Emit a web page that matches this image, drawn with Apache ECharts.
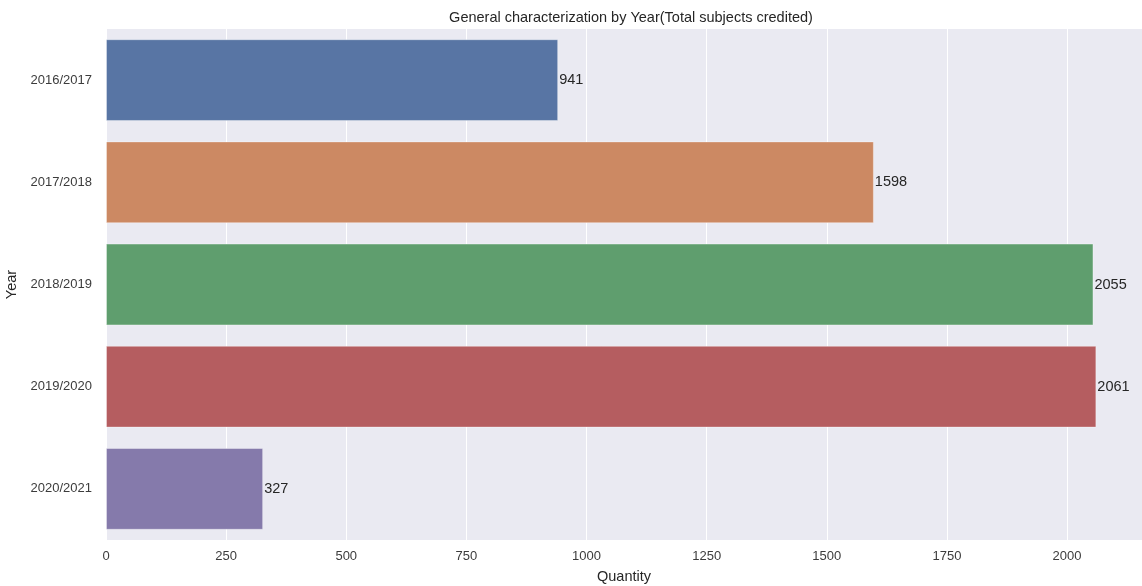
<!DOCTYPE html>
<html>
<head>
<meta charset="utf-8">
<script src="https://cdn.jsdelivr.net/npm/echarts@6/dist/echarts.min.js"></script>
<style>html,body{margin:0;padding:0;background:#fff;}#c{width:1142px;height:586px;}</style>
</head>
<body>
<div id="c"></div>
<script>
const categories = ['2016/2017', '2017/2018', '2018/2019', '2019/2020', '2020/2021'];
const values = [941, 1598, 2055, 2061, 327];
const xTicks = [0, 250, 500, 750, 1000, 1250, 1500, 1750, 2000];
const palette = ['#5875a4', '#cc8963', '#5f9e6e', '#b55d60', '#857aab'];
const FONT = '"Liberation Sans", Arial, sans-serif';

const chart = echarts.init(document.getElementById('c'), null, {renderer: 'canvas'});
chart.setOption({
  animation: false,
  backgroundColor: '#ffffff',
  title: {
    text: 'General characterization by Year(Total subjects credited)',
    left: 626, top: 5, textAlign: 'center',
    textStyle: {fontFamily: FONT, fontSize: 14.5, fontWeight: 'normal', color: '#262626'}
  },
  grid: {left: 106, right: 0, top: 29, bottom: 46, show: true, backgroundColor: '#eaeaf2', borderWidth: 0,
    containLabel: false, outerBoundsMode: 'none'},
  xAxis: {
    type: 'value', min: 0, max: 2156, interval: 250,
    name: 'Quantity', nameLocation: 'middle', nameGap: 29,
    nameTextStyle: {fontFamily: FONT, fontSize: 14.5, color: '#262626'},
    axisLine: {show: false}, axisTick: {show: false},
    axisLabel: {fontFamily: FONT, fontSize: 13, color: '#3c3c3c', margin: 10, showMaxLabel: false,
      formatter: v => xTicks.includes(v) ? String(v) : ''},
    splitLine: {show: true, lineStyle: {color: '#ffffff', width: 1}}
  },
  yAxis: {
    type: 'category', data: categories, inverse: true,
    name: 'Year', nameLocation: 'middle', nameGap: 80,
    nameTextStyle: {fontFamily: FONT, fontSize: 14.5, color: '#262626'},
    axisLine: {show: false}, axisTick: {show: false},
    axisLabel: {fontFamily: FONT, fontSize: 13, color: '#3c3c3c', margin: 14},
    splitLine: {show: false}
  },
  series: [{
    type: 'bar',
    barCategoryGap: '20%',
    data: values.map((v, i) => ({value: v, itemStyle: {color: palette[i], borderColor: 'rgba(255,255,255,0.35)', borderWidth: 1}})),
    label: {show: true, position: 'right', distance: 1, fontFamily: FONT, fontSize: 14.5, color: '#262626'}
  }]
});
</script>
</body>
</html>
